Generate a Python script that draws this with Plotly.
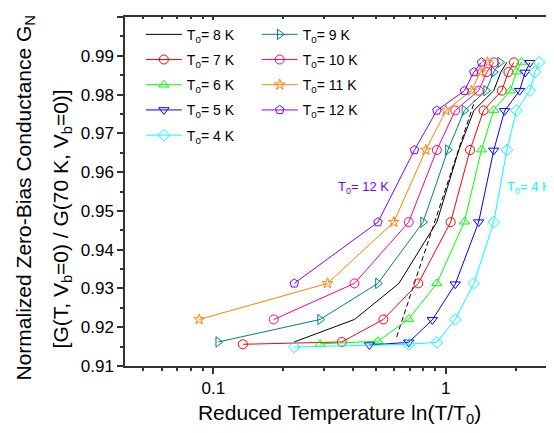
import plotly.graph_objects as go

# ---- data (x = ln(T/T0), y = normalized G) ----
x_t8 = [0.223, 0.405, 0.629, 0.916, 1.139, 1.322, 1.609, 1.727, 1.833]
g_t8 = [0.9162, 0.9220, 0.9313, 0.9471, 0.9657, 0.9759, 0.9810, 0.9858, 0.9883]

x_t7 = [0.134, 0.357, 0.539, 0.762, 1.050, 1.273, 1.455, 1.743, 1.861, 1.966]
g_t7 = [0.9156, 0.9162, 0.9220, 0.9313, 0.9471, 0.9657, 0.9759, 0.9810, 0.9858, 0.9883]

x_t6 = [0.288, 0.511, 0.693, 0.916, 1.204, 1.427, 1.609, 1.897, 2.015, 2.120]
g_t6 = [0.9157, 0.9164, 0.9221, 0.9313, 0.9472, 0.9658, 0.9760, 0.9810, 0.9859, 0.9884]

x_t5 = [0.470, 0.693, 0.876, 1.099, 1.386, 1.609, 1.792, 2.079, 2.197, 2.303]
g_t5 = [0.9154, 0.9161, 0.9219, 0.9311, 0.9471, 0.9656, 0.9758, 0.9810, 0.9857, 0.9882]

x_t4 = [0.223, 0.693, 0.916, 1.099, 1.322, 1.609, 1.833, 2.015, 2.303, 2.420, 2.526]
g_t4 = [0.9149, 0.9156, 0.9161, 0.9220, 0.9313, 0.9471, 0.9657, 0.9759, 0.9810, 0.9858, 0.9883]

x_t9 = [0.105, 0.288, 0.511, 0.799, 1.022, 1.204, 1.492, 1.609, 1.715]
g_t9 = [0.9162, 0.9220, 0.9313, 0.9471, 0.9657, 0.9759, 0.9810, 0.9858, 0.9883]

x_t10 = [0.182, 0.405, 0.693, 0.916, 1.099, 1.386, 1.504, 1.609]
g_t10 = [0.9220, 0.9313, 0.9471, 0.9657, 0.9759, 0.9810, 0.9858, 0.9883]

x_t11 = [0.087, 0.310, 0.598, 0.821, 1.003, 1.291, 1.409, 1.514]
g_t11 = [0.9220, 0.9313, 0.9471, 0.9657, 0.9759, 0.9810, 0.9858, 0.9883]

x_t12 = [0.223, 0.511, 0.734, 0.916, 1.204, 1.322, 1.427]
g_t12 = [0.9313, 0.9471, 0.9657, 0.9759, 0.9810, 0.9858, 0.9883]

x_dash = [0.615, 1.337]
g_dash = [0.9175, 0.9786]

x_major_ticks = [0.1, 1]
x_major_text = ["0.1", "1"]
x_minor_ticks = [0.05, 0.06, 0.07, 0.08, 0.09, 0.2, 0.3, 0.4, 0.5, 0.6, 0.7, 0.8, 0.9, 2]

FONT = "Liberation Sans, Arial, sans-serif"

series = [
    # name, x, y, color, symbol, marker size, legend
    ("8", x_t8, g_t8, "#000000", None, 0, "legend"),
    ("7", x_t7, g_t7, "#FF0000", "circle-open", 9, "legend"),
    ("6", x_t6, g_t6, "#00FF00", "triangle-up-open", 9, "legend"),
    ("5", x_t5, g_t5, "#0000FF", "triangle-down-open", 9, "legend"),
    ("4", x_t4, g_t4, "#00FFFF", "diamond-open", 9, "legend"),
    ("9", x_t9, g_t9, "#008080", "triangle-right-open", 9, "legend2"),
    ("10", x_t10, g_t10, "#FF0080", "circle-open", 9, "legend2"),
    ("11", x_t11, g_t11, "#FF8000", "star-open", 8, "legend2"),
    ("12", x_t12, g_t12, "#8000FF", "pentagon-open", 9, "legend2"),
]

fig = go.Figure()

fig.add_trace(go.Scatter(x=x_dash, y=g_dash, mode="lines",
                         line=dict(color="#000000", width=1, dash="5px,3px"),
                         showlegend=False, hoverinfo="skip"))

for name, xs, ys, col, sym, msize, leg in series:
    if sym is None:
        fig.add_trace(go.Scatter(x=xs, y=ys, mode="lines",
                                 line=dict(color=col, width=1),
                                 name=f"T<sub>0</sub>= {name} K",
                                 legend=leg, legendgroup=name))
    else:
        fig.add_trace(go.Scatter(x=xs, y=ys, mode="lines+markers",
                                 line=dict(color=col, width=1),
                                 marker=dict(symbol=sym, size=msize, color=col,
                                             line=dict(color=col, width=1)),
                                 name=f"T<sub>0</sub>= {name} K",
                                 legend=leg, legendgroup=name))

# top axis (mirrored inward ticks)
fig.add_trace(go.Scatter(x=[], y=[], xaxis="x2", yaxis="y", showlegend=False))

axis_col = "#333333"
fig.update_layout(
    width=546, height=425,
    margin=dict(l=117, r=0, t=9, b=67),
    paper_bgcolor="white", plot_bgcolor="white",
    font=dict(family=FONT, size=17, color="#000000"),
    xaxis=dict(type="log", range=[-1.380, 0.466],
               tickmode="array", tickvals=x_major_ticks, ticktext=x_major_text,
               ticks="outside", ticklen=6, tickwidth=1.5, tickcolor=axis_col,
               minor=dict(tickmode="array", tickvals=x_minor_ticks, ticks="outside",
                          ticklen=3, tickwidth=1.5, tickcolor=axis_col),
               showline=True, linecolor=axis_col, linewidth=1.5,
               showgrid=False, zeroline=False,
               tickfont=dict(size=17),
               title=dict(text="Reduced Temperature ln(T/T<sub>0</sub>)",
                          font=dict(size=21), standoff=8)),
    xaxis2=dict(type="log", range=[-1.380, 0.466], overlaying="x", side="top",
                tickmode="array", tickvals=x_major_ticks, showticklabels=False,
                ticks="inside", ticklen=3, tickwidth=1.5, tickcolor=axis_col,
                minor=dict(tickmode="array", tickvals=x_minor_ticks, ticks="inside",
                           ticklen=2, tickwidth=1.5, tickcolor=axis_col),
                showline=True, linecolor=axis_col, linewidth=1.5,
                showgrid=False, zeroline=False),
    yaxis=dict(range=[0.91, 1.00], dtick=0.01, tick0=0.91, tickformat=".2f",
               ticks="outside", ticklen=6, tickwidth=1.5, tickcolor=axis_col,
               minor=dict(dtick=0.005, ticks="outside", ticklen=3,
                          tickwidth=1.5, tickcolor=axis_col),
               showline=True, linecolor=axis_col, linewidth=1.5,
               showgrid=False, zeroline=False, tickfont=dict(size=17)),
    legend=dict(x=0.037, y=0.995, xanchor="left", yanchor="top",
                bgcolor="rgba(0,0,0,0)", font=dict(size=14),
                tracegroupgap=4, itemwidth=36),
    legend2=dict(x=0.307, y=0.995, xanchor="left", yanchor="top",
                 bgcolor="rgba(0,0,0,0)", font=dict(size=14),
                 tracegroupgap=4, itemwidth=36),
    annotations=[
        dict(text="Normalized Zero-Bias Conductance G<sub>N</sub>",
             xref="paper", yref="paper", x=0, y=0.48, xshift=-100,
             textangle=-90, showarrow=False, font=dict(size=21),
             xanchor="center", yanchor="middle"),
        dict(text="[G(T, V<sub>b</sub>=0) / G(70 K, V<sub>b</sub>=0)]",
             xref="paper", yref="paper", x=0, y=0.42, xshift=-63,
             textangle=-90, showarrow=False, font=dict(size=21),
             xanchor="center", yanchor="middle"),
        dict(text="T<sub>0</sub>= 12 K", xref="paper", yref="paper",
             x=(336 - 125) / 429, y=(366 - 187) / 349, xanchor="left", yanchor="middle",
             showarrow=False, font=dict(size=13, color="#8000FF")),
        dict(text="T<sub>0</sub>= 4 K", xref="paper", yref="paper",
             x=(553 - 125) / 429, y=(366 - 187) / 349, xanchor="right", yanchor="middle",
             showarrow=False, font=dict(size=13, color="#00FFFF")),
    ],
)

fig.write_html("out.html")
